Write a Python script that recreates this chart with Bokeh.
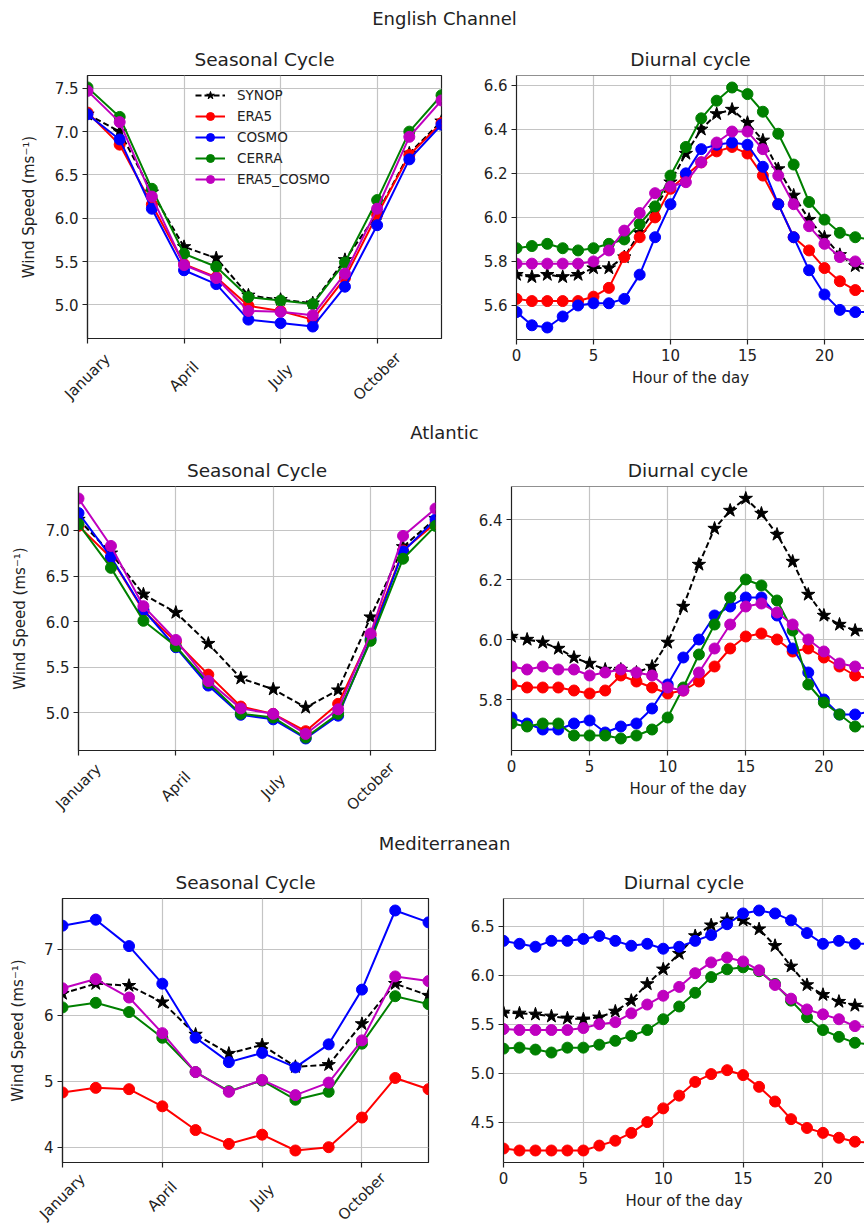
import math
from bokeh.plotting import figure
from bokeh.layouts import column, row
from bokeh.models import (FixedTicker, PrintfTickFormatter, Legend, LegendItem,
                          Range1d, Span)
from bokeh.embed import file_html
from bokeh.resources import INLINE
from bokeh.core.properties import value

FONT = "DejaVu Sans"

# ---------------- data ----------------
months = ["January", "February", "March", "April", "May", "June", "July",
          "August", "September", "October", "November", "December"]
month_pos = list(range(12))
month_ticks = [0, 3, 6, 9]
hours = list(range(24))
hour_ticks = [0, 5, 10, 15, 20]
series = ["SYNOP", "ERA5", "COSMO", "CERRA", "ERA5_COSMO"]
regions = ["English Channel", "Atlantic", "Mediterranean"]

# English Channel
ec_seas_synop = [7.20, 7.00, 6.30, 5.67, 5.54, 5.11, 5.06, 5.02, 5.52, 6.05, 6.75, 7.12]
ec_seas_era5 = [7.22, 6.85, 6.16, 5.47, 5.32, 4.99, 4.93, 4.83, 5.31, 6.04, 6.73, 7.10]
ec_seas_cosmo = [7.20, 6.91, 6.11, 5.40, 5.24, 4.83, 4.79, 4.75, 5.21, 5.92, 6.68, 7.08]
ec_seas_cerra = [7.51, 7.17, 6.34, 5.59, 5.44, 5.09, 5.05, 5.01, 5.49, 6.21, 7.00, 7.42]
ec_seas_era5_cosmo = [7.47, 7.11, 6.25, 5.46, 5.31, 4.93, 4.92, 4.88, 5.36, 6.11, 6.94, 7.36]

ec_diur_synop = [5.74, 5.73, 5.74, 5.73, 5.74, 5.77, 5.77, 5.82, 5.93, 6.04, 6.16, 6.29,
                 6.40, 6.47, 6.49, 6.43, 6.35, 6.22, 6.10, 5.99, 5.91, 5.83, 5.78, 5.76]
ec_diur_era5 = [5.63, 5.62, 5.62, 5.62, 5.62, 5.64, 5.68, 5.82, 5.91, 6.00, 6.13, 6.19,
                6.25, 6.30, 6.32, 6.29, 6.19, 6.06, 5.91, 5.85, 5.77, 5.71, 5.67, 5.66]
ec_diur_cosmo = [5.57, 5.51, 5.50, 5.55, 5.60, 5.61, 5.61, 5.63, 5.74, 5.91, 6.06, 6.20,
                 6.31, 6.33, 6.34, 6.33, 6.23, 6.06, 5.91, 5.76, 5.65, 5.58, 5.57, 5.57]
ec_diur_cerra = [5.86, 5.87, 5.88, 5.86, 5.85, 5.86, 5.88, 5.90, 5.97, 6.05, 6.19, 6.32,
                 6.45, 6.53, 6.59, 6.56, 6.48, 6.38, 6.24, 6.07, 5.99, 5.93, 5.91, 5.90]
ec_diur_era5_cosmo = [5.79, 5.79, 5.79, 5.79, 5.79, 5.80, 5.85, 5.94, 6.02, 6.11, 6.14, 6.16,
                      6.25, 6.34, 6.39, 6.39, 6.31, 6.19, 6.06, 5.96, 5.88, 5.82, 5.80, 5.78]

# Atlantic
at_seas_synop = [7.12, 6.75, 6.30, 6.10, 5.76, 5.38, 5.26, 5.06, 5.25, 6.05, 6.82, 7.13]
at_seas_era5 = [7.05, 6.70, 6.12, 5.78, 5.42, 5.07, 4.99, 4.80, 5.10, 5.85, 6.78, 7.08]
at_seas_cosmo = [7.19, 6.71, 6.13, 5.72, 5.30, 4.98, 4.93, 4.72, 4.97, 5.81, 6.77, 7.12]
at_seas_cerra = [7.07, 6.59, 6.01, 5.73, 5.33, 4.99, 4.95, 4.73, 4.99, 5.79, 6.69, 7.05]
at_seas_era5_cosmo = [7.35, 6.83, 6.17, 5.80, 5.35, 5.05, 4.99, 4.77, 5.04, 5.87, 6.94, 7.24]

at_diur_synop = [6.01, 6.00, 5.99, 5.97, 5.94, 5.92, 5.90, 5.90, 5.89, 5.91, 5.99, 6.11,
                 6.25, 6.37, 6.43, 6.47, 6.42, 6.35, 6.26, 6.15, 6.08, 6.05, 6.03, 6.03]
at_diur_era5 = [5.85, 5.84, 5.84, 5.84, 5.83, 5.82, 5.83, 5.88, 5.86, 5.84, 5.82, 5.83,
                5.86, 5.91, 5.97, 6.01, 6.02, 6.00, 5.96, 5.97, 5.94, 5.91, 5.88, 5.87]
at_diur_cosmo = [5.74, 5.72, 5.70, 5.70, 5.72, 5.73, 5.69, 5.71, 5.72, 5.77, 5.85, 5.94,
                 6.00, 6.08, 6.11, 6.14, 6.14, 6.08, 5.97, 5.89, 5.80, 5.75, 5.75, 5.76]
at_diur_cerra = [5.72, 5.71, 5.72, 5.72, 5.68, 5.68, 5.68, 5.67, 5.68, 5.70, 5.74, 5.84,
                 5.95, 6.05, 6.14, 6.20, 6.18, 6.13, 6.03, 5.85, 5.79, 5.75, 5.71, 5.71]
at_diur_era5_cosmo = [5.91, 5.90, 5.91, 5.90, 5.90, 5.88, 5.89, 5.90, 5.89, 5.88, 5.84, 5.83,
                      5.89, 5.97, 6.05, 6.11, 6.12, 6.09, 6.05, 6.00, 5.96, 5.92, 5.91, 5.90]

# Mediterranean
me_seas_synop = [6.33, 6.48, 6.45, 6.20, 5.71, 5.42, 5.55, 5.22, 5.25, 5.87, 6.48, 6.30]
me_seas_era5 = [4.83, 4.90, 4.88, 4.62, 4.26, 4.05, 4.19, 3.95, 4.00, 4.45, 5.05, 4.88]
me_seas_cosmo = [7.36, 7.45, 7.05, 6.48, 5.66, 5.29, 5.43, 5.21, 5.56, 6.39, 7.59, 7.41]
me_seas_cerra = [6.12, 6.19, 6.05, 5.66, 5.14, 4.85, 5.01, 4.72, 4.84, 5.57, 6.29, 6.17]
me_seas_era5_cosmo = [6.41, 6.55, 6.27, 5.73, 5.14, 4.84, 5.02, 4.79, 4.98, 5.62, 6.59, 6.52]

me_diur_synop = [5.62, 5.61, 5.60, 5.58, 5.56, 5.55, 5.57, 5.63, 5.74, 5.91, 6.06, 6.22,
                 6.40, 6.51, 6.57, 6.56, 6.47, 6.30, 6.09, 5.90, 5.80, 5.73, 5.69, 5.67]
me_diur_era5 = [4.23, 4.21, 4.21, 4.21, 4.21, 4.21, 4.26, 4.31, 4.39, 4.50, 4.64, 4.77,
                4.91, 4.99, 5.03, 4.98, 4.86, 4.71, 4.53, 4.44, 4.39, 4.34, 4.30, 4.29]
me_diur_cosmo = [6.35, 6.32, 6.29, 6.35, 6.35, 6.37, 6.40, 6.35, 6.30, 6.32, 6.27, 6.29,
                 6.35, 6.41, 6.52, 6.63, 6.66, 6.63, 6.56, 6.43, 6.32, 6.35, 6.32, 6.32]
me_diur_cerra = [5.25, 5.26, 5.24, 5.21, 5.26, 5.26, 5.29, 5.33, 5.38, 5.44, 5.55, 5.68,
                 5.82, 5.98, 6.06, 6.08, 6.04, 5.91, 5.74, 5.57, 5.44, 5.37, 5.31, 5.29]
me_diur_era5_cosmo = [5.45, 5.44, 5.44, 5.44, 5.44, 5.46, 5.50, 5.52, 5.61, 5.70, 5.79, 5.88,
                      6.02, 6.13, 6.18, 6.14, 6.05, 5.90, 5.76, 5.65, 5.60, 5.55, 5.48, 5.47]

# ---------------- style ----------------
STYLE = {
    "SYNOP": dict(color="#000000", dash="6 3", marker="star", size=14),
    "ERA5": dict(color="#ff0000", dash="solid", marker="circle", size=11),
    "COSMO": dict(color="#0000ff", dash="solid", marker="circle", size=11),
    "CERRA": dict(color="#008000", dash="solid", marker="circle", size=11),
    "ERA5_COSMO": dict(color="#bf00bf", dash="solid", marker="circle", size=11),
}
TXT = "#222222"
GRID = "#c4c4c4"
HOUR_END = 22.6
PLOT_BOTTOM = 8   # space under a seasonal frame kept for the tick marks


def auto_range(ys):
    lo = min(min(v) for v in ys)
    hi = max(max(v) for v in ys)
    m = (hi - lo) * 0.05
    return lo - m, hi + m


def title_strip(text, height, center_from_top):
    p = figure(width=864, height=height, x_range=Range1d(0, 864), y_range=Range1d(0, height),
               toolbar_location=None, output_backend="svg", x_axis_type=None, y_axis_type=None,
               min_border=0)
    p.outline_line_color = None
    p.text(x=[432 + 12], y=[height - center_from_top], text=[text], text_align="center",
           text_baseline="middle", text_font=value(FONT), text_font_size="18px", text_color=TXT)
    return p


def month_label_strip(width, height, bl, br, center_from_top):
    # x scale identical to the seasonal frame above, extended over the side borders
    fw = width - bl - br
    ppu = fw / 11.0
    p = figure(width=width, height=height,
               x_range=Range1d(-bl / ppu, 11 + br / ppu), y_range=Range1d(0, height),
               toolbar_location=None, output_backend="svg", x_axis_type=None, y_axis_type=None,
               min_border=0)
    p.outline_line_color = None
    p.text(x=month_ticks, y=[height - center_from_top] * len(month_ticks),
           text=[months[t] for t in month_ticks], angle=math.pi / 4,
           text_align="center", text_baseline="middle", text_font=value(FONT),
           text_font_size="15px", text_color=TXT)
    return p


def style_axes(p):
    for ax in (p.xaxis[0], p.yaxis[0]):
        ax.axis_line_color = "#222222"
        ax.axis_line_width = 1.2
        ax.major_tick_line_color = "#222222"
        ax.major_tick_line_width = 1.2
        ax.major_tick_out = 5
        ax.major_tick_in = 0
        ax.minor_tick_line_color = None
        ax.major_label_text_font = FONT
        ax.major_label_text_font_size = "15px"
        ax.major_label_text_color = TXT
        ax.axis_label_text_font = FONT
        ax.axis_label_text_font_size = "15px"
        ax.axis_label_text_font_style = "normal"
        ax.axis_label_text_color = TXT


def panel(kind, ys, yticks, yfmt, width, height, bl, br, bt, bb, with_legend=False, lab_center=30):
    seasonal = kind == "seasonal"
    lo, hi = auto_range(ys)
    xr = Range1d(0, 11) if seasonal else Range1d(0, HOUR_END)
    frame_h = height - bt - bb
    ph = bt + frame_h + PLOT_BOTTOM if seasonal else height
    p = figure(width=width, height=ph, x_range=xr, y_range=Range1d(lo, hi),
               toolbar_location=None, output_backend="svg",
               min_border_left=bl, min_border_right=br, min_border_top=bt,
               min_border_bottom=PLOT_BOTTOM if seasonal else bb,
               title="Seasonal Cycle" if seasonal else "Diurnal cycle")
    p.title.align = "center"
    p.title.text_font = FONT
    p.title.text_font_size = "18.5px"
    p.title.text_font_style = "normal"
    p.title.text_color = TXT
    p.title.standoff = 11

    x = month_pos if seasonal else hours
    renderers = []
    for name, y in zip(series, ys):
        st = STYLE[name]
        r1 = p.line(x, y, line_color=st["color"], line_width=2, line_dash=st["dash"])
        r2 = p.scatter(x, y, marker=st["marker"], size=st["size"], fill_color=st["color"],
                       line_color=st["color"])
        renderers.append((name, [r1, r2]))

    style_axes(p)
    p.yaxis.ticker = FixedTicker(ticks=yticks)
    p.yaxis.formatter = PrintfTickFormatter(format=yfmt)
    p.yaxis.major_label_standoff = 4
    if seasonal:
        p.xaxis.ticker = FixedTicker(ticks=month_ticks)
        p.xaxis.major_label_overrides = {i: "" for i in month_ticks}
        p.xaxis.major_label_text_font_size = "0px"
        p.xaxis.major_label_standoff = 0
        p.yaxis.axis_label = "Wind Speed (ms\u207b\u00b9)"
        p.yaxis.axis_label_standoff = 14
    else:
        p.xaxis.ticker = FixedTicker(ticks=hour_ticks)
        p.xaxis.axis_label = "Hour of the day"
        p.xaxis.major_label_standoff = 4
        p.xaxis.axis_label_standoff = 5

    p.grid.grid_line_color = GRID
    p.grid.grid_line_width = 1.2

    if seasonal:
        p.outline_line_color = "#222222"
        p.outline_line_width = 1.2
    else:
        p.outline_line_color = None
        p.add_layout(Span(location=hi, dimension="width", line_color="#222222", line_width=1.2))

    if with_legend:
        items = [LegendItem(label=n, renderers=rs) for n, rs in renderers]
        leg = Legend(items=items, location=(104, 145), orientation="vertical",
                     glyph_width=30, glyph_height=20, label_height=20, label_standoff=12,
                     spacing=1, padding=4, margin=0,
                     label_text_font=FONT, label_text_font_size="13.5px",
                     label_text_color=TXT, background_fill_alpha=0, border_line_alpha=0)
        p.add_layout(leg)

    if seasonal:
        strip = month_label_strip(width, height - ph, bl, br, lab_center)
        # wrapped in a row so that its frame is not aligned with the plot above
        return column(p, row(strip))
    return p


p11 = panel("seasonal", [ec_seas_synop, ec_seas_era5, ec_seas_cosmo, ec_seas_cerra, ec_seas_era5_cosmo],
            [5.0, 5.5, 6.0, 6.5, 7.0, 7.5], "%.1f", 470, 374, 87, 29, 37, 74, with_legend=True,
            lab_center=30)
p12 = panel("diurnal", [ec_diur_synop, ec_diur_era5, ec_diur_cosmo, ec_diur_cerra, ec_diur_era5_cosmo],
            [5.6, 5.8, 6.0, 6.2, 6.4, 6.6], "%.1f", 394, 374, 46, 0, 37, 73)

p21 = panel("seasonal", [at_seas_synop, at_seas_era5, at_seas_cosmo, at_seas_cerra, at_seas_era5_cosmo],
            [5.0, 5.5, 6.0, 6.5, 7.0], "%.1f", 465, 373, 78, 30, 36, 73, lab_center=28)
p22 = panel("diurnal", [at_diur_synop, at_diur_era5, at_diur_cosmo, at_diur_cerra, at_diur_era5_cosmo],
            [5.8, 6.0, 6.2, 6.4], "%.1f", 399, 373, 46, 0, 36, 73)

p31 = panel("seasonal", [me_seas_synop, me_seas_era5, me_seas_cosmo, me_seas_cerra, me_seas_era5_cosmo],
            [4, 5, 6, 7], "%d", 460, 363, 62, 32, 36, 63, lab_center=26)
p32 = panel("diurnal", [me_diur_synop, me_diur_era5, me_diur_cosmo, me_diur_cerra, me_diur_era5_cosmo],
            [4.5, 5.0, 5.5, 6.0, 6.5], "%.1f", 404, 363, 43, 0, 36, 63)

t1 = title_strip(regions[0], 38, 18)
t2 = title_strip(regions[1], 38, 20)
t3 = title_strip(regions[2], 39, 20)

layout = column(t1, row(p11, p12), t2, row(p21, p22), t3, row(p31, p32))

open("out.html", "w").write(file_html(layout, INLINE))
